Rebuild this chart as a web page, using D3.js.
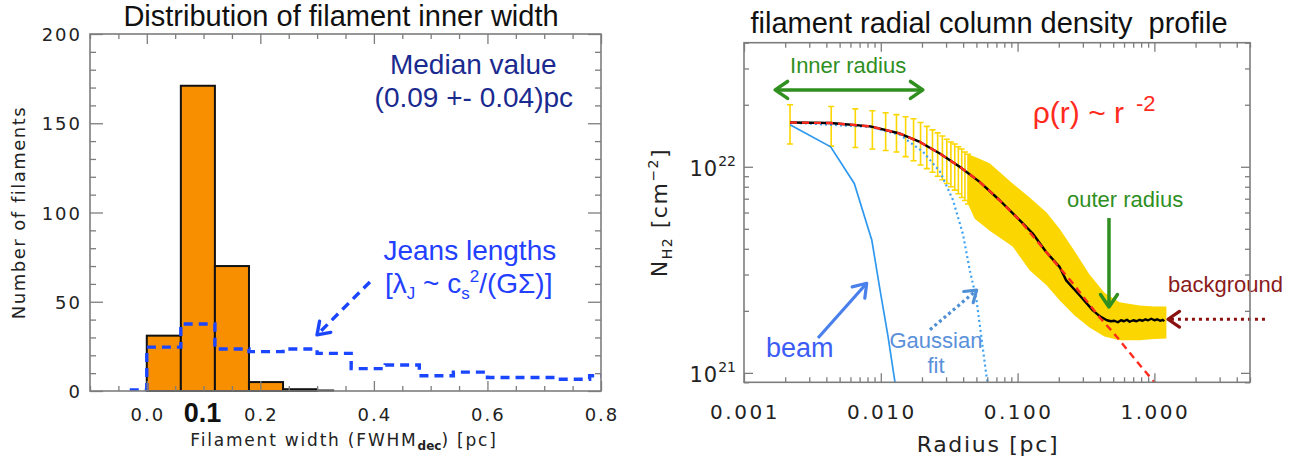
<!DOCTYPE html>
<html lang="en">
<head>
<meta charset="UTF-8">
<title>Filament widths and radial profile</title>
<script src="https://d3js.org/d3.v7.min.js"></script>
<style>
  body { margin: 0; background: #fff; }
  text { white-space: pre; }
</style>
</head>
<body>
<svg width="1299" height="463"></svg>
<script>
// ---------- left panel: histogram of filament inner widths ----------
const widthEdges  = [0.00, 0.06, 0.12, 0.18, 0.24, 0.30];
const widthCounts = [31, 171, 70, 5, 1];
const widthTail   = [0.30, 0.33];   // empty bins drawn as a line on zero
const jeansEdges  = [-0.03, 0.00, 0.06, 0.12, 0.18, 0.24, 0.30, 0.36, 0.42, 0.48, 0.54, 0.60, 0.66, 0.72, 0.78, 0.84];
const jeansCounts = [0, 24, 37, 23, 21.5, 23, 20.5, 12, 14, 8, 10, 7, 7, 6, 8];
const xMajorL = [0.0, 0.2, 0.4, 0.6, 0.8];
const xLabelsL = ["0.0", "0.2", "0.4", "0.6", "0.8"];
const yMajorL = [0, 50, 100, 150, 200];

// ---------- right panel: radial column density profile ----------
const profileR = [0.00217, 0.0043, 0.0084, 0.0138, 0.0193, 0.027, 0.0377, 0.0528, 0.0739, 0.1035, 0.1286,
  0.1618, 0.2026, 0.2265, 0.2837, 0.3548, 0.40, 0.45, 0.48, 0.51, 0.54, 0.57, 0.60, 0.63, 0.66, 0.70,
  0.74, 0.78, 0.82, 0.86, 0.90, 0.95, 1.00, 1.05, 1.10, 1.15, 1.18];
const profileN = [1.64e22, 1.63e22, 1.57e22, 1.45e22, 1.32e22, 1.16e22, 1.00e22, 8.45e21, 6.88e21, 5.51e21, 4.76e21,
  3.86e21, 3.27e21, 2.81e21, 2.38e21, 2.01e21, 1.88e21, 1.80e21, 1.78e21, 1.79e21, 1.76e21, 1.80e21, 1.78e21, 1.81e21, 1.77e21, 1.80e21,
  1.78e21, 1.81e21, 1.79e21, 1.82e21, 1.80e21, 1.83e21, 1.80e21, 1.82e21, 1.79e21, 1.81e21, 1.78e21];

const barR  = [0.00217, 0.00434, 0.00651, 0.00868, 0.01085, 0.01302, 0.01519, 0.01736, 0.01953, 0.0217,
  0.02387, 0.02604, 0.02821, 0.03038, 0.03255, 0.03472, 0.03689, 0.03906, 0.04123, 0.0434];
const barHi = [2.00e22, 1.96e22, 1.91e22, 1.87e22, 1.83e22, 1.79e22, 1.75e22, 1.71e22, 1.64e22, 1.57e22,
  1.51e22, 1.46e22, 1.41e22, 1.36e22, 1.32e22, 1.29e22, 1.25e22, 1.22e22, 1.18e22, 1.15e22];
const barLo = [1.29e22, 1.26e22, 1.24e22, 1.22e22, 1.20e22, 1.18e22, 1.12e22, 1.07e22, 1.02e22, 9.8e21,
  9.4e21, 9.0e21, 8.65e21, 8.3e21, 8.0e21, 7.7e21, 7.4e21, 7.1e21, 6.86e21, 6.6e21];

const bandR  = [0.0434, 0.0486, 0.0625, 0.092, 0.1224, 0.1629, 0.2026, 0.2608, 0.3357, 0.4315, 0.5555, 0.778, 1.0, 1.224];
const bandHi = [1.15e22, 1.12e22, 1.04e22, 8.3e21, 7.1e21, 6.0e21, 5.0e21, 3.9e21, 3.0e21, 2.45e21, 2.2e21, 2.12e21, 2.1e21, 2.1e21];
const bandLo = [6.6e21, 5.6e21, 4.9e21, 4.1e21, 3.15e21, 2.66e21, 2.25e21, 1.9e21, 1.66e21, 1.5e21, 1.44e21, 1.44e21, 1.46e21, 1.47e21];

const beamR = [0.00217, 0.0043, 0.0064, 0.0086, 0.0098, 0.0113, 0.0127, 0.0131];
const beamN = [1.60e22, 1.25e22, 8.3e21, 4.4e21, 2.6e21, 1.5e21, 9.0e20, 8.4e20];

const gaussR = [0.00217, 0.0084, 0.0138, 0.0204, 0.027, 0.0337, 0.0399, 0.0447, 0.0499, 0.0594, 0.0615];
const gaussN = [1.64e22, 1.56e22, 1.43e22, 1.18e22, 9.5e21, 6.9e21, 4.7e21, 3.15e21, 2.3e21, 9.5e20, 8.5e20];

const powerR = [0.00217, 0.0043, 0.0084, 0.0138, 0.0193, 0.027, 0.0377, 0.0528, 0.0739, 0.1035, 0.1618, 0.25, 0.397, 0.5, 0.75, 1.0, 1.06];
const powerN = [1.64e22, 1.63e22, 1.57e22, 1.45e22, 1.32e22, 1.16e22, 1.00e22, 8.45e21, 6.88e21, 5.51e21, 3.86e21, 2.75e21, 1.86e21, 1.57e21, 1.13e21, 9.0e20, 8.6e20];

const xMajorR = [0.001, 0.01, 0.1, 1];
const xLabelsR = ["0.001", "0.010", "0.100", "1.000"];
const yMajorR = [1e21, 1e22];
const yLabelsR = ["21", "22"];

// ---------- scales ----------
const svg = d3.select("svg");
const axisColor = "#7d7d7d";
const L = {left: 90, right: 601, top: 34, bottom: 391};
const R = {left: 744, right: 1250, top: 42.7, bottom: 382.3};

const xL = d3.scaleLinear().domain([-0.1, 0.8]).range([L.left, L.right]);
const yL = d3.scaleLinear().domain([0, 200]).range([L.bottom, L.top]);
const xR = d3.scaleLog().domain([0.001, 5]).range([R.left, R.right]);
const yR = d3.scaleLog().domain([9e20, 4e22]).range([R.bottom, R.top]);

// inward ticks on all four sides, using d3 axes
function frameTicks(box, xs, ys, xVals, yVals, majorX, majorY, lenX, lenY) {
    const g = svg.append("g");
    const sides = [
        [d3.axisBottom(xs), `translate(0,${box.bottom})`, xVals, majorX, lenX],
        [d3.axisTop(xs), `translate(0,${box.top})`, xVals, majorX, lenX],
        [d3.axisLeft(ys), `translate(${box.left},0)`, yVals, majorY, lenY],
        [d3.axisRight(ys), `translate(${box.right},0)`, yVals, majorY, lenY]
    ];
    sides.forEach(([ax, tr, vals, majors, len]) => {
        const minors = vals.filter(v => !majors.some(m => Math.abs(m - v) < 1e-9 * Math.max(1, Math.abs(m))));
        [[minors, len[1]], [majors, len[0]]].forEach(([tv, size]) => {
            const a = g.append("g").attr("transform", tr)
                .call(ax.tickValues(tv).tickSize(-size).tickFormat(""));
            a.select(".domain").remove();
            a.selectAll("line").attr("stroke", axisColor).attr("stroke-width", 1.3);
        });
    });
    g.append("rect")
        .attr("x", box.left).attr("y", box.top)
        .attr("width", box.right - box.left).attr("height", box.bottom - box.top)
        .attr("fill", "none").attr("stroke", axisColor).attr("stroke-width", 1.6);
}

function chevron(g, x1, y1, x2, y2, size, color, width) {
    const a = Math.atan2(y2 - y1, x2 - x1);
    const s = 0.6;
    g.append("path")
        .attr("d", `M${x2 - size * Math.cos(a - s)},${y2 - size * Math.sin(a - s)}L${x2},${y2}L${x2 - size * Math.cos(a + s)},${y2 - size * Math.sin(a + s)}`)
        .attr("fill", "none").attr("stroke", color).attr("stroke-width", width)
        .attr("stroke-linecap", "round").attr("stroke-linejoin", "round");
}

// ---------- left panel ----------
const left = svg.append("g");

left.selectAll("rect.bin")
    .data(widthCounts)
    .join("rect")
    .attr("class", "bin")
    .attr("x", (d, i) => xL(widthEdges[i]))
    .attr("y", d => yL(d))
    .attr("width", (d, i) => xL(widthEdges[i + 1]) - xL(widthEdges[i]))
    .attr("height", d => yL(0) - yL(d))
    .attr("fill", "#f78f00")
    .attr("stroke", "#111")
    .attr("stroke-width", 2);

left.append("line")
    .attr("x1", xL(widthTail[0])).attr("x2", xL(widthTail[1]))
    .attr("y1", yL(0) - 0.5).attr("y2", yL(0) - 0.5)
    .attr("stroke", "#111").attr("stroke-width", 2);

const jeansPts = jeansEdges.map((e, i) => [e, i < jeansCounts.length ? jeansCounts[i] : jeansCounts[jeansCounts.length - 1]]);
svg.append("clipPath").attr("id", "clipL")
    .append("rect").attr("x", L.left).attr("y", L.top - 2)
    .attr("width", L.right - L.left).attr("height", L.bottom - L.top + 2);
left.append("path")
    .attr("clip-path", "url(#clipL)")
    .attr("d", d3.line().x(d => xL(d[0])).y(d => yL(d[1]) - 1).curve(d3.curveStepAfter)(jeansPts))
    .attr("fill", "none").attr("stroke", "#1b46ff").attr("stroke-width", 3.4)
    .attr("stroke-dasharray", "9,6");

frameTicks(L, xL, yL, xL.ticks(18), yL.ticks(20), xMajorL, yMajorL, [10, 5], [13, 6]);

left.append("text")
    .attr("x", 341).attr("y", 26).attr("text-anchor", "middle")
    .style("font", "29px 'Liberation Sans', Arial, sans-serif").attr("fill", "#111")
    .text("Distribution of filament inner width");

const tickFontL = "18px 'DejaVu Sans', sans-serif";
left.selectAll("text.xl")
    .data(xMajorL)
    .join("text")
    .attr("class", "xl")
    .attr("x", d => xL(d) + 1).attr("y", 421).attr("text-anchor", "middle")
    .style("font", tickFontL).style("letter-spacing", "2px").attr("fill", "#222")
    .text((d, i) => xLabelsL[i]);
left.append("text")
    .attr("x", xL(0.1) - 1).attr("y", 422).attr("text-anchor", "middle")
    .style("font", "bold 27px 'Liberation Sans', Arial, sans-serif").attr("fill", "#111")
    .text("0.1");
left.selectAll("text.yl")
    .data(yMajorL)
    .join("text")
    .attr("class", "yl")
    .attr("x", 82).attr("y", d => yL(d) + 7).attr("text-anchor", "end")
    .style("font", tickFontL).style("letter-spacing", "2px").attr("fill", "#222")
    .text(d => d);

left.append("text")
    .attr("transform", `translate(25,${(L.top + L.bottom) / 2}) rotate(-90)`)
    .attr("text-anchor", "middle")
    .style("font", tickFontL).style("letter-spacing", "1.5px").attr("fill", "#222")
    .text("Number of filaments");

const xlab = left.append("text")
    .attr("x", 344).attr("y", 446).attr("text-anchor", "middle")
    .style("font", "17px 'DejaVu Sans', sans-serif").style("letter-spacing", "1.8px").attr("fill", "#222");
xlab.append("tspan").text("Filament width (FWHM");
xlab.append("tspan").attr("dy", 4).style("font-size", "12px").style("font-weight", "bold").style("letter-spacing", "0px").text("dec");
xlab.append("tspan").attr("dy", -4).text(") [pc]");

const annFont = "28px 'Liberation Sans', Arial, sans-serif";
left.append("text")
    .attr("x", xL(0.575)).attr("y", yL(177.6)).attr("text-anchor", "middle")
    .style("font", annFont).attr("fill", "#1b2a8f").text("Median value");
left.append("text")
    .attr("x", xL(0.576)).attr("y", yL(159.1)).attr("text-anchor", "middle")
    .style("font", annFont).attr("fill", "#1b2a8f").text("(0.09 +- 0.04)pc");
left.append("text")
    .attr("x", xL(0.569)).attr("y", yL(73.4)).attr("text-anchor", "middle")
    .style("font", annFont).attr("fill", "#2440ff").text("Jeans lengths");
const jl = left.append("text")
    .attr("x", xL(0.567)).attr("y", yL(54.9)).attr("text-anchor", "middle")
    .style("font", annFont).attr("fill", "#2440ff");
jl.append("tspan").text("[λ");
jl.append("tspan").attr("dy", 6).style("font-size", "17px").text("J");
jl.append("tspan").attr("dy", -6).text(" ~ c");
jl.append("tspan").attr("dy", 6).style("font-size", "17px").text("s");
jl.append("tspan").attr("dy", -17).style("font-size", "17px").text("2");
jl.append("tspan").attr("dy", 11).text("/(GΣ)]");

const ja = [xL(0.393), yL(61.1), xL(0.2998), yL(31.4)];
left.append("line")
    .attr("x1", ja[0]).attr("y1", ja[1]).attr("x2", ja[2] + 3).attr("y2", ja[3] - 3)
    .attr("stroke", "#1b46ff").attr("stroke-width", 3.4).attr("stroke-dasharray", "9,6");
chevron(left, ja[0], ja[1], ja[2], ja[3], 14, "#1b46ff", 3.4);

// ---------- right panel ----------
const right = svg.append("g");
svg.append("clipPath").attr("id", "clipR")
    .append("rect").attr("x", R.left).attr("y", R.top)
    .attr("width", R.right - R.left).attr("height", R.bottom - R.top);
const plotR = right.append("g").attr("clip-path", "url(#clipR)");

const yellow = "#fcd600";
plotR.append("path")
    .attr("d", d3.area().x((d, i) => xR(d)).y0((d, i) => yR(bandLo[i])).y1((d, i) => yR(bandHi[i]))(bandR))
    .attr("fill", yellow);
const bars = plotR.selectAll("g.eb").data(barR).join("g").attr("class", "eb");
bars.append("line")
    .attr("x1", d => xR(d)).attr("x2", d => xR(d))
    .attr("y1", (d, i) => yR(barHi[i])).attr("y2", (d, i) => yR(barLo[i]))
    .attr("stroke", yellow).attr("stroke-width", 1.6);
bars.append("line")
    .attr("x1", d => xR(d) - 3).attr("x2", d => xR(d) + 3)
    .attr("y1", (d, i) => yR(barHi[i])).attr("y2", (d, i) => yR(barHi[i]))
    .attr("stroke", yellow).attr("stroke-width", 1.6);
bars.append("line")
    .attr("x1", d => xR(d) - 3).attr("x2", d => xR(d) + 3)
    .attr("y1", (d, i) => yR(barLo[i])).attr("y2", (d, i) => yR(barLo[i]))
    .attr("stroke", yellow).attr("stroke-width", 1.6);

const lineR = (rs, ns) => d3.line().x((d, i) => xR(d)).y((d, i) => yR(ns[i]))(rs);
plotR.append("path").attr("d", lineR(gaussR, gaussN))
    .attr("fill", "none").attr("stroke", "#3ea2f2").attr("stroke-width", 2.2).attr("stroke-dasharray", "2,3");
plotR.append("path").attr("d", lineR(beamR, beamN))
    .attr("fill", "none").attr("stroke", "#2f98ef").attr("stroke-width", 1.7);
plotR.append("path").attr("d", lineR(profileR, profileN))
    .attr("fill", "none").attr("stroke", "#000").attr("stroke-width", 2.4).attr("stroke-linejoin", "round");
plotR.append("path").attr("d", lineR(powerR, powerN))
    .attr("fill", "none").attr("stroke", "#ff2b1c").attr("stroke-width", 2.4).attr("stroke-dasharray", "7,5");

frameTicks(R, xR, yR, xR.ticks(), yR.ticks(), xMajorR, yMajorR, [9, 5], [9, 5]);

right.append("text")
    .attr("x", 989).attr("y", 33).attr("text-anchor", "middle")
    .style("font", "29px 'Liberation Sans', Arial, sans-serif").attr("fill", "#111")
    .text("filament radial column density  profile");

right.selectAll("text.xr")
    .data(xMajorR)
    .join("text")
    .attr("class", "xr")
    .attr("x", d => xR(d) + 1).attr("y", 419).attr("text-anchor", "middle")
    .style("font", "20px 'DejaVu Sans', sans-serif").style("letter-spacing", "2.5px").attr("fill", "#222")
    .text((d, i) => xLabelsR[i]);
const yt = right.selectAll("text.yr")
    .data(yMajorR)
    .join("text")
    .attr("class", "yr")
    .attr("x", 736).attr("y", d => yR(d) + 9).attr("text-anchor", "end")
    .style("font", "21px 'DejaVu Sans', sans-serif").attr("fill", "#222");
yt.append("tspan").style("letter-spacing", "1px").text("10");
yt.append("tspan").attr("dy", -10).style("font-size", "14px").text((d, i) => yLabelsR[i]);

right.append("text")
    .attr("x", 988).attr("y", 452).attr("text-anchor", "middle")
    .style("font", "22px 'DejaVu Sans', sans-serif").style("letter-spacing", "1.7px").attr("fill", "#222")
    .text("Radius [pc]");
const yl = right.append("text")
    .attr("transform", `translate(667,${(R.top + R.bottom) / 2}) rotate(-90)`)
    .attr("text-anchor", "middle")
    .style("font", "22px 'DejaVu Sans', sans-serif").style("letter-spacing", "1.5px").attr("fill", "#222");
yl.append("tspan").text("N");
yl.append("tspan").attr("dy", 5).style("font-size", "14px").text("H2");
yl.append("tspan").attr("dy", -5).text(" [cm");
yl.append("tspan").attr("dy", -9).style("font-size", "14px").text("−2");
yl.append("tspan").attr("dy", 9).text("]");

// annotations, placed in data coordinates
const green = "#2f8f1f";
const small = "22px 'Liberation Sans', Arial, sans-serif";
right.append("text")
    .attr("x", xR(0.00217)).attr("y", yR(2.85e22))
    .style("font", small).attr("fill", green).text("Inner radius");
const ga = [xR(0.00169), yR(2.36e22), xR(0.0203), yR(2.36e22)];
right.append("line").attr("x1", ga[0]).attr("y1", ga[1]).attr("x2", ga[2]).attr("y2", ga[3])
    .attr("stroke", green).attr("stroke-width", 3.5);
chevron(right, ga[0], ga[1], ga[2], ga[3], 15, green, 3.5);
chevron(right, ga[2], ga[3], ga[0], ga[1], 15, green, 3.5);

const rho = right.append("text")
    .attr("x", xR(0.1292)).attr("y", yR(1.63e22))
    .style("font", "30px 'Liberation Sans', Arial, sans-serif").attr("fill", "#ff2b1c");
rho.append("tspan").text("ρ(r) ~ r");
rho.append("tspan").attr("dx", 12).attr("dy", -12).style("font-size", "22px").text("-2");

right.append("text")
    .attr("x", xR(0.2296)).attr("y", yR(6.38e21))
    .style("font", small).attr("fill", green).text("outer radius");
const oa = [xR(0.4656), yR(5.64e21), xR(0.4656), yR(2.09e21)];
right.append("line").attr("x1", oa[0]).attr("y1", oa[1]).attr("x2", oa[2]).attr("y2", oa[3] - 2)
    .attr("stroke", green).attr("stroke-width", 3.5);
chevron(right, oa[0], oa[1], oa[2], oa[3], 15, green, 3.5);

right.append("text")
    .attr("x", xR(1.257)).attr("y", yR(2.48e21))
    .style("font", small).attr("fill", "#8b1a1a").text("background");
const ba = [xR(6.43), yR(1.82e21), xR(1.257), yR(1.82e21)];
right.append("line").attr("x1", ba[0]).attr("y1", ba[1]).attr("x2", ba[2] + 2).attr("y2", ba[3])
    .attr("stroke", "#8b1010").attr("stroke-width", 3.2).attr("stroke-dasharray", "3,4");
chevron(right, ba[0], ba[1], ba[2], ba[3], 14, "#8b1010", 3.2);

right.append("text")
    .attr("x", xR(0.00145)).attr("y", yR(1.2e21))
    .style("font", "27px 'Liberation Sans', Arial, sans-serif").attr("fill", "#3c5cf5").text("beam");
const bma = [xR(0.003475), yR(1.477e21), xR(0.00789), yR(2.72e21)];
right.append("line").attr("x1", bma[0]).attr("y1", bma[1]).attr("x2", bma[2]).attr("y2", bma[3])
    .attr("stroke", "#4a80ec").attr("stroke-width", 3.2);
chevron(right, bma[0], bma[1], bma[2], bma[3], 15, "#4a80ec", 3.2);

right.append("text")
    .attr("x", xR(0.0253)).attr("y", yR(1.32e21)).attr("text-anchor", "middle")
    .style("font", small).attr("fill", "#5a90da").text("Gaussian");
right.append("text")
    .attr("x", xR(0.0253)).attr("y", yR(9.96e20)).attr("text-anchor", "middle")
    .style("font", small).attr("fill", "#5a90da").text("fit");
const gfa = [xR(0.0229), yR(1.62e21), xR(0.0502), yR(2.52e21)];
right.append("line").attr("x1", gfa[0]).attr("y1", gfa[1]).attr("x2", gfa[2]).attr("y2", gfa[3])
    .attr("stroke", "#4f8fd6").attr("stroke-width", 3.2).attr("stroke-dasharray", "3,3");
chevron(right, gfa[0], gfa[1], gfa[2], gfa[3], 13, "#4f8fd6", 3.2);
</script>
</body>
</html>
